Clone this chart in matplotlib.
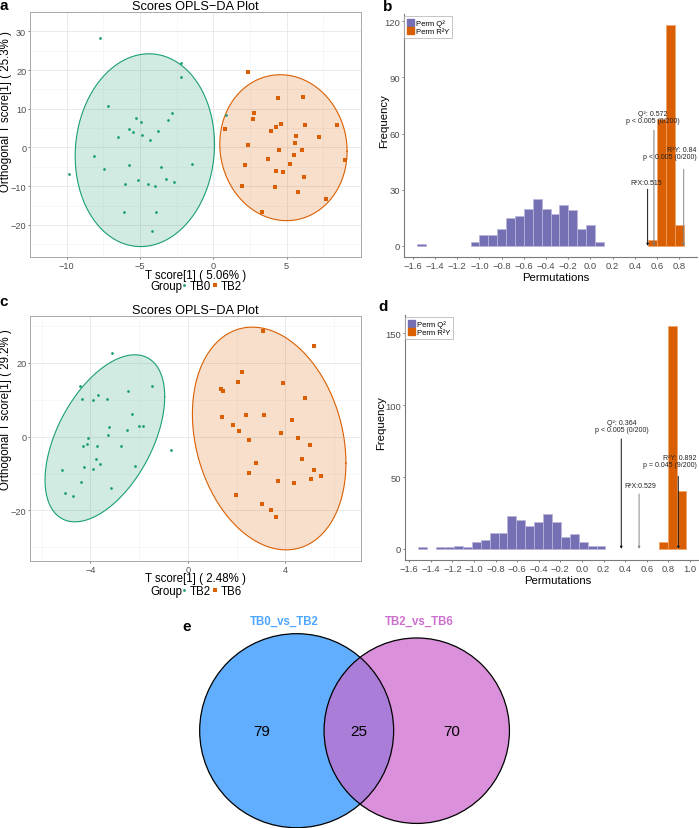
import matplotlib
matplotlib.use('Agg')
import matplotlib.pyplot as plt
from matplotlib.lines import Line2D
from matplotlib.patches import Circle, Patch
import numpy as np

plt.rcParams['font.family'] = ['Liberation Sans', 'DejaVu Sans']

W, H = 699, 829
GREEN = '#1B9E77'
ORANGE = '#D95F02'
PURPLE = '#7570B3'

# ---- panel a : TB0 vs TB2 scores ----
a_tb0_x = [-7.71, -2.22, -2.22, -7.21, -2.81, -5.26, -3.06, -4.93, -5.74, -5.49,
           -3.79, -6.48, -4.89, -4.32, 0.84, -8.13, -7.48, -9.83, -1.47, -5.74,
           -3.56, -5.14, -3.25, -2.70, -6.02, -4.47, -3.98, -6.06, -3.88, -4.15]
a_tb0_y = [28.2, 21.7, 18.3, 10.6, 8.9, 7.5, 7.1, 6.6, 4.7, 4.0,
           4.3, 2.7, 3.1, 2.0, 8.3, -2.3, -5.6, -6.9, -4.3, -4.5,
           -5.0, -8.3, -8.1, -9.0, -9.5, -9.4, -10.0, -16.6, -16.6, -21.6]
a_tb2_x = [2.37, 6.08, 4.38, 2.75, 2.73, 0.82, 4.63, 4.30, 6.23, 8.43,
           3.94, 5.64, 7.17, 5.60, 2.37, 4.47, 6.06, 3.75, 5.47, 5.22,
           2.16, 9.00, 4.26, 4.76, 6.21, 1.97, 4.23, 5.77, 7.69, 3.33]
a_tb2_y = [19.6, 13.1, 12.7, 9.0, 7.4, 4.7, 6.1, 5.4, 5.9, 5.9,
           4.3, 2.9, 2.8, 1.2, 0.7, -0.7, -0.7, -3.1, -1.9, -4.2,
           -4.5, -3.3, -6.1, -6.3, -7.5, -10.0, -10.3, -11.6, -13.3, -16.6]
# ellipse: centre x, centre y, sd x, sd y, correlation
a_ell_tb0 = [-4.67, -0.7, 4.75, 24.9, 0.06]
a_ell_tb2 = [4.78, -0.05, 4.34, 18.85, -0.05]

# ---- panel c : TB2 vs TB6 scores ----
c_tb2_x = [-3.09, -4.42, -1.46, -2.44, -4.34, -3.90, -3.68, -3.32, -2.27, -3.23,
           -2.01, -1.82, -3.28, -2.50, -4.10, -4.28, -4.13, -3.73, -2.72, -0.67,
           -3.76, -3.60, -4.25, -3.90, -2.18, -5.14, -4.38, -3.16, -5.03, -4.72]
c_tb2_y = [22.8, 13.7, 13.7, 12.5, 10.1, 9.9, 11.2, 10.3, 6.1, 2.6,
           2.9, 2.9, 0.45, 1.9, -0.5, -2.5, -2.1, -2.5, -2.5, -3.5,
           -6.0, -7.4, -8.1, -8.9, -8.0, -9.0, -12.4, -13.9, -15.3, -16.2]
c_tb6_x = [3.09, 5.18, 2.24, 1.35, 1.46, 2.07, 3.90, 4.80, 1.42, 2.37,
           3.11, 4.28, 1.86, 2.09, 3.83, 2.52, 4.52, 5.02, 4.67, 2.82,
           2.50, 5.18, 3.69, 4.36, 5.05, 5.47, 1.96, 3.05, 3.41, 3.63]
c_tb6_y = [28.7, 24.5, 17.6, 12.8, 12.5, 14.7, 14.5, 10.4, 5.3, 5.9,
           6.0, 4.4, 3.1, 1.4, 1.1, -1.0, -0.5, -2.3, -6.1, -7.2,
           -9.9, -9.1, -12.1, -12.6, -11.6, -10.7, -15.7, -18.2, -19.8, -21.7]
c_ell_tb2 = [-3.4, -0.45, 2.455, 22.65, 0.5]
c_ell_tb6 = [3.34, -0.5, 3.15, 30.2, -0.22]

# ---- panel b / d : permutation histograms ----
b_bin_start, b_bin_width = -1.56, 0.08
b_q2 = [1, 0, 0, 0, 0, 0, 2, 6, 6, 9, 15, 16, 20, 25, 20, 17, 22, 19, 9, 11,
        2, 0, 0, 0, 0, 0, 0, 0, 0, 0]
b_r2y = [0, 0, 0, 0, 0, 0, 0, 0, 0, 0, 0, 0, 0, 0, 0, 0, 0, 0, 0, 0,
         0, 0, 0, 0, 0, 0, 3, 68, 118, 11]
b_yticks = [0, 30, 60, 90, 120]
b_xticks = [-1.6, -1.4, -1.2, -1.0, -0.8, -0.6, -0.4, -0.2, 0.0, 0.2, 0.4, 0.6, 0.8]

d_bin_start, d_bin_width = -1.515, 0.0825
d_q2 = [1, 0, 1, 1, 2, 1, 5, 6, 11, 11, 23, 20, 16, 19, 24, 19, 8, 10, 5, 2,
        2, 0, 0, 0, 0, 0, 0, 0, 0, 0]
d_r2y = [0, 0, 0, 0, 0, 0, 0, 0, 0, 0, 0, 0, 0, 0, 0, 0, 0, 0, 0, 0,
         0, 0, 0, 0, 0, 0, 0, 5, 155, 40]
d_yticks = [0, 50, 100, 150]
d_xticks = [-1.6, -1.4, -1.2, -1.0, -0.8, -0.6, -0.4, -0.2, 0.0, 0.2, 0.4, 0.6, 0.8, 1.0]

# stat value, label, line top, text x, text y, alignment, line colour
b_stats = [
    (0.515, 'R²X:0.515', 30.3, 0.50, 34.0, 'center', '#111111'),
    (0.572, 'Q²: 0.572\np < 0.005 (0/200)', 61.8, 0.56, 69.0, 'center', '#777777'),
    (0.84, 'R²Y: 0.84\np < 0.005 (0/200)', 40.9, 0.955, 49.5, 'right', '#888888'),
]
d_stats = [
    (0.364, 'Q²: 0.364\np < 0.005 (0/200)', 76.5, 0.37, 85.3, 'center', '#111111'),
    (0.529, 'R²X:0.529', 38.2, 0.54, 44.0, 'center', '#888888'),
    (0.892, 'R²Y: 0.892\np = 0.045 (9/200)', 50.5, 1.065, 61.0, 'right', '#111111'),
]

# ---- panel e : venn ----
venn_names = ['TB0_vs_TB2', 'TB2_vs_TB6']
venn_only = [79, 70]
venn_both = 25
venn_fill = ['#62AEFE', '#DA90DA', '#AA7DD8']
venn_title_col = ['#4DA6FF', '#CC6FCC']


def box(x0, y0, x1, y1):
    return [x0 / W, 1 - y1 / H, (x1 - x0) / W, (y1 - y0) / H]


def ellipse_xy(p, n=300):
    cx, cy, sx, sy, rho = p
    t = np.linspace(0, 2 * np.pi, n)
    return cx + sx * np.cos(t), cy + sy * (rho * np.cos(t) + np.sqrt(1 - rho ** 2) * np.sin(t))


def score_panel(ax, g1, g2, e1, e2, names, xticks, yticks, xlabel, ylabel, xl_y, leg_y, yl_y):
    allx, ally = [], []
    for (x, y), e, col, mk, ms in [(g1, e1, GREEN, 'o', 2.0), (g2, e2, ORANGE, 's', 2.5)]:
        ex, ey = ellipse_xy(e)
        ax.fill(ex, ey, color=col, alpha=0.2, lw=0, zorder=2)
        ax.plot(ex, ey, color=col, lw=0.8, zorder=3)
        ax.plot(x, y, ls='', marker=mk, ms=ms, color=col, mew=0, zorder=4)
        allx += list(ex) + list(x)
        ally += list(ey) + list(y)
    for lim, vals in [(ax.set_xlim, allx), (ax.set_ylim, ally)]:
        lo, hi = min(vals), max(vals)
        pad = (hi - lo) * 0.05
        lim(lo - pad, hi + pad)
    ax.set_xticks(xticks)
    ax.set_yticks(yticks)
    ax.set_xticks([(a + b) / 2 for a, b in zip(xticks[:-1], xticks[1:])]
                  + [xticks[0] - (xticks[1] - xticks[0]) / 2, xticks[-1] + (xticks[1] - xticks[0]) / 2], minor=True)
    ax.set_yticks([(a + b) / 2 for a, b in zip(yticks[:-1], yticks[1:])]
                  + [yticks[0] - (yticks[1] - yticks[0]) / 2, yticks[-1] + (yticks[1] - yticks[0]) / 2], minor=True)
    ax.grid(True, which='major', color='#E6E6E6', lw=0.6, zorder=0)
    ax.grid(True, which='minor', color='#F1F1F1', lw=0.4, zorder=0)
    ax.set_axisbelow(True)
    ax.tick_params(which='minor', length=0)
    ax.tick_params(which='major', length=1.5, width=0.5, color='#4D4D4D', labelsize=6.6,
                   labelcolor='#4D4D4D', pad=1.2)
    for s in ax.spines.values():
        s.set_color('#A8A8A8')
        s.set_linewidth(0.7)
    ax.text(0.5, 1.026, 'Scores OPLS\u2212DA Plot', transform=ax.transAxes, fontsize=9.2,
            ha='center', va='center')
    ax.set_xlabel(xlabel, fontsize=8.3)
    ax.xaxis.set_label_coords(0.5, xl_y)
    ax.xaxis.label.set_verticalalignment('center')
    ax.set_ylabel(ylabel, fontsize=8.3)
    ax.yaxis.set_label_coords(-0.073, yl_y)
    ax.yaxis.label.set_verticalalignment('center')
    handles = [Line2D([], [], ls='', marker='o', ms=2.0, color=GREEN, mew=0),
               Line2D([], [], ls='', marker='s', ms=2.5, color=ORANGE, mew=0)]
    ax.legend(handles, names, ncol=2, loc='center left', bbox_to_anchor=(0.459, leg_y),
              frameon=False, fontsize=8.3, handlelength=0.4, handletextpad=0.25,
              columnspacing=0.2, borderpad=0, borderaxespad=0)
    ax.text(0.413, leg_y, 'Group', transform=ax.transAxes, fontsize=8.3, ha='center', va='center')


def perm_panel(ax, start, width, q2, r2y, stats, xticks, yticks, yl_x):
    edges = start + width * np.arange(len(q2))
    centers = edges + width / 2
    for counts, col, ec in [(q2, PURPLE, '#B9B6DC'), (r2y, ORANGE, '#EFA36A')]:
        c = np.array(counts)
        m = c > 0
        ax.bar(centers[m], c[m], width=width, color=col, edgecolor=ec, lw=0.5, zorder=2)
    lo, hi = edges[0], edges[-1] + width
    pad = (hi - lo) * 0.05
    ax.set_xlim(lo - pad, hi + pad)
    top = max(max(q2), max(r2y))
    ax.set_ylim(-top * 0.05, top * 1.05)
    for val, txt, ltop, tx, ty, ha, lc in stats:
        ax.annotate('', xy=(val, 0), xytext=(val, ltop),
                    arrowprops=dict(arrowstyle='-|>', color=lc, lw=0.7, mutation_scale=3,
                                    shrinkA=0, shrinkB=0), zorder=5)
        ax.text(tx, ty, txt, fontsize=5.0, ha=ha, va='center', multialignment=ha,
                linespacing=1.0, zorder=6, color='#222222')
    ax.set_xticks(xticks)
    ax.set_xticklabels([f'{t:.1f}'.replace('-', '\u2212') for t in xticks])
    ax.set_yticks(yticks)
    for s in ['top', 'right']:
        ax.spines[s].set_visible(False)
    for s in ['left', 'bottom']:
        ax.spines[s].set_color('#7A7A7A')
        ax.spines[s].set_linewidth(0.8)
    ax.tick_params(length=1.5, width=0.5, color='#4D4D4D', labelsize=6.8, labelcolor='#4D4D4D', pad=1.2)
    ax.set_xlabel('Permutations', fontsize=8.2)
    ax.xaxis.set_label_coords(0.518, -0.082)
    ax.xaxis.label.set_verticalalignment('center')
    ax.set_ylabel('Frequency', fontsize=8.2)
    ax.yaxis.set_label_coords(yl_x, 0.562)
    ax.yaxis.label.set_verticalalignment('center')
    handles = [Patch(color=PURPLE), Patch(color=ORANGE)]
    leg = ax.legend(handles, ['Perm Q²', 'Perm R²Y'], loc='upper left', bbox_to_anchor=(0.0, 0.99),
                    fontsize=5.5, handlelength=0.95, handleheight=0.95, handletextpad=0.25,
                    labelspacing=0.05, borderpad=0.35, borderaxespad=0, fancybox=False)
    leg.get_frame().set_edgecolor('#9A9A9A')
    leg.get_frame().set_linewidth(0.5)


def lens_area(r1, r2, d):
    a1 = r1 ** 2 * np.arccos((d ** 2 + r1 ** 2 - r2 ** 2) / (2 * d * r1))
    a2 = r2 ** 2 * np.arccos((d ** 2 + r2 ** 2 - r1 ** 2) / (2 * d * r2))
    k = np.sqrt((-d + r1 + r2) * (d + r1 - r2) * (d - r1 + r2) * (d + r1 + r2))
    return a1 + a2 - 0.5 * k


fig = plt.figure(figsize=(W / 100, H / 100), dpi=100)

ax_a = fig.add_axes(box(30, 13, 361, 258))
score_panel(ax_a, (a_tb0_x, a_tb0_y), (a_tb2_x, a_tb2_y), a_ell_tb0, a_ell_tb2, ['TB0', 'TB2'],
            [-10, -5, 0, 5], [-20, -10, 0, 10, 20, 30], 'T score[1] ( 5.06% )',
            'Orthogonal T score[1] ( 25.3% )', -0.072, -0.118, 0.596)

ax_c = fig.add_axes(box(30, 317, 361, 562))
score_panel(ax_c, (c_tb2_x, c_tb2_y), (c_tb6_x, c_tb6_y), c_ell_tb2, c_ell_tb6, ['TB2', 'TB6'],
            [-4, 0, 4], [-20, 0, 20], 'T score[1] ( 2.48% )',
            'Orthogonal T score[1] ( 29.2% )', -0.071, -0.123, 0.62)

ax_b = fig.add_axes(box(404, 15, 697, 258))
perm_panel(ax_b, b_bin_start, b_bin_width, b_q2, b_r2y, b_stats, b_xticks, b_yticks, -0.068)

ax_d = fig.add_axes(box(405, 316, 699, 561))
perm_panel(ax_d, d_bin_start, d_bin_width, d_q2, d_r2y, d_stats, d_xticks, d_yticks, -0.082)

# venn, area proportional
n1 = venn_only[0] + venn_both
n2 = venn_only[1] + venn_both
r1, r2 = np.sqrt(n1 / np.pi), np.sqrt(n2 / np.pi)
lo, hi = abs(r1 - r2) + 1e-9, r1 + r2 - 1e-9
for _ in range(80):
    mid = (lo + hi) / 2
    if lens_area(r1, r2, mid) > venn_both:
        lo = mid
    else:
        hi = mid
dist = (lo + hi) / 2

ax_e = fig.add_axes(box(150, 600, 550, 829))
ax_e.set_xlim(-8.70, 15.03)
ax_e.set_ylim(-5.77, 7.81)
ax_e.axis('off')
c1 = Circle((0, 0), r1, fc=venn_fill[0], ec='none', zorder=1)
c2 = Circle((dist, 0), r2, fc=venn_fill[1], ec='none', zorder=1)
ax_e.add_patch(c1)
ax_e.add_patch(c2)
lens = Circle((dist, 0), r2, fc=venn_fill[2], ec='none', zorder=2)
ax_e.add_patch(lens)
lens.set_clip_path(c1)
ax_e.add_patch(Circle((0, 0), r1, fill=False, ec='black', lw=0.9, zorder=3))
ax_e.add_patch(Circle((dist, 0), r2, fill=False, ec='black', lw=0.9, zorder=3))
ax_e.text((-r1 + dist - r2) / 2, 0, str(venn_only[0]), fontsize=11, ha='center', va='center', zorder=4)
ax_e.text((dist - r2 + r1) / 2, 0, str(venn_both), fontsize=11, ha='center', va='center', zorder=4)
ax_e.text((r1 + dist + r2) / 2, 0, str(venn_only[1]), fontsize=11, ha='center', va='center', zorder=4)
ax_e.text(-0.74, 6.52, venn_names[0], fontsize=8.3, fontweight='bold', color=venn_title_col[0],
          ha='center', va='center')
ax_e.text(dist + 0.15, 6.52, venn_names[1], fontsize=8.3, fontweight='bold', color=venn_title_col[1],
          ha='center', va='center')

for lab, x, y in [('a', 3.7, 6.5), ('b', 388, 7), ('c', 3.7, 302.5), ('d', 383, 307), ('e', 186.7, 626.7)]:
    fig.text(x / W, 1 - y / H, lab, fontsize=11, fontweight='bold', ha='center', va='center')

fig.savefig('out.png', dpi=100)
